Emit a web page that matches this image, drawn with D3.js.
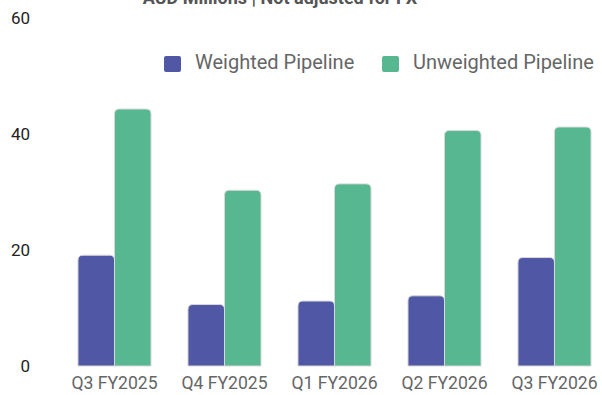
<!DOCTYPE html>
<html>
<head>
<meta charset="utf-8">
<script src="https://cdn.jsdelivr.net/npm/d3@7"></script>
<style>
  html, body { margin: 0; padding: 0; background: #fff; }
  svg { display: block; font-family: Roboto, "Noto Sans", sans-serif; }
</style>
</head>
<body>
<svg id="chart" width="602" height="395"></svg>
<script>
const categories = ["Q3 FY2025", "Q4 FY2025", "Q1 FY2026", "Q2 FY2026", "Q3 FY2026"];
const seriesNames = ["Weighted Pipeline", "Unweighted Pipeline"];
const weighted = [19.1, 10.6, 11.2, 12.1, 18.7];
const unweighted = [44.3, 30.3, 31.4, 40.6, 41.2];
const yTicks = [0, 20, 40, 60];
const colors = ["#5058a5", "#57b790"];
const title = "AUD Millions | Not adjusted for FX";

const svg = d3.select("#chart");

const y = d3.scaleLinear().domain([0, 60]).range([366, 18]);
const x = d3.scaleBand().domain(categories).range([59.5, 609.5])
  .paddingInner(0.336).paddingOuter(0.168);
const xs = d3.scaleBand().domain(seriesNames).range([0, x.bandwidth()]).padding(0);

// title (partly cut off at the top, as in the reference)
svg.append("text")
  .attr("x", 280).attr("y", 4)
  .attr("text-anchor", "middle")
  .attr("font-size", 18).attr("font-weight", "bold")
  .attr("fill", "#555")
  .text(title);

// y axis labels
const yAxis = d3.axisLeft(y).tickValues(yTicks).tickSize(0).tickPadding(0);
const yg = svg.append("g").attr("transform", "translate(30,0)").call(yAxis);
yg.select(".domain").remove();
yg.selectAll("text").attr("font-size", 17).attr("fill", "#222")
  .attr("font-family", "Roboto, sans-serif");

// x axis labels
const xAxis = d3.axisBottom(x).tickSize(0).tickPadding(0);
const xg = svg.append("g").attr("transform", "translate(0,376)").call(xAxis);
xg.select(".domain").remove();
xg.selectAll("text").attr("font-size", 17.6).attr("fill", "#666")
  .attr("font-family", "Roboto, sans-serif");

// bars with rounded top corners
function topRounded(x0, y0, w, h, r) {
  r = Math.min(r, h, w / 2);
  return `M${x0},${y0 + h}V${y0 + r}Q${x0},${y0} ${x0 + r},${y0}H${x0 + w - r}Q${x0 + w},${y0} ${x0 + w},${y0 + r}V${y0 + h}Z`;
}

const data = categories.map((c, i) => ({ cat: c, vals: [weighted[i], unweighted[i]] }));
const groups = svg.append("g").selectAll("g").data(data).join("g")
  .attr("transform", d => `translate(${x(d.cat)},0)`);

groups.selectAll("path").data(d => d.vals.map((v, j) => ({ name: seriesNames[j], v, j })))
  .join("path")
  .attr("d", d => topRounded(xs(d.name), y(d.v), xs.bandwidth(), y(0) - y(d.v), 5))
  .attr("fill", d => colors[d.j])
  .attr("stroke", "#d8d8d8")
  .attr("stroke-width", 1);

// legend
const legendItems = [{ x: 164, name: seriesNames[0], c: colors[0] }, { x: 382, name: seriesNames[1], c: colors[1] }];
const lg = svg.append("g");
legendItems.forEach(it => {
  lg.append("rect").attr("x", it.x).attr("y", 56).attr("width", 17).attr("height", 16)
    .attr("rx", 2).attr("fill", it.c);
  lg.append("text").attr("x", it.x + 31).attr("y", 69)
    .attr("font-size", 20).attr("fill", "#666").text(it.name);
});
</script>
</body>
</html>
